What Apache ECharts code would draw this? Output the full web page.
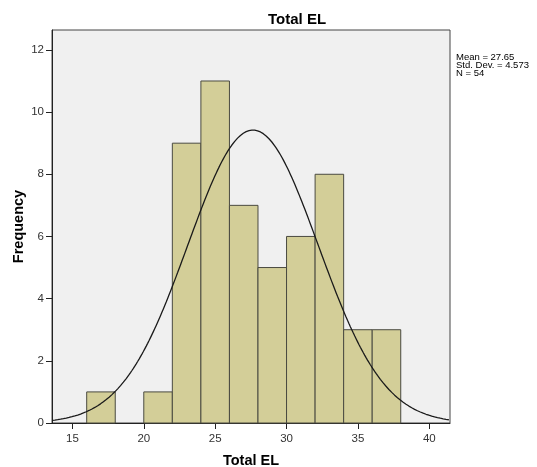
<!DOCTYPE html>
<html>
<head>
<meta charset="utf-8">
<style>
  html, body { margin: 0; padding: 0; background: #ffffff; }
  #chart { width: 537px; height: 467px; }
</style>
<script src="https://cdn.jsdelivr.net/npm/echarts@6/dist/echarts.min.js"></script>
</head>
<body>
<div id="chart"></div>
<script>
// Histogram bins of Total EL (bin width 2)
const binStarts = [16, 18, 20, 22, 24, 26, 28, 30, 32, 34, 36];
const binEnds   = [18, 20, 22, 24, 26, 28, 30, 32, 34, 36, 38];
const frequencies = [1, 0, 1, 9, 11, 7, 5, 6, 8, 3, 3];

// Descriptive statistics shown beside the plot
const statMean = 27.65;
const statSd = 4.573;
const statN = 54;
const statLines = ['Mean = ' + statMean, 'Std. Dev. = ' + statSd, 'N = ' + statN];

// Axis ticks
const xTicks = [15, 20, 25, 30, 35, 40];
const yTicks = [0, 2, 4, 6, 8, 10, 12];

const xMin = 13.57, xMax = 41.45;
const yMax = 12.64;
const binWidth = 2;

const FONT = 'Arial, "Liberation Sans", sans-serif';

// Fitted normal curve, scaled to frequency units (N * bin width)
const curve = [];
for (let x = xMin; x <= xMax + 1e-9; x += 0.1) {
  const z = (x - statMean) / statSd;
  const y = statN * binWidth * Math.exp(-0.5 * z * z) / (statSd * Math.sqrt(2 * Math.PI));
  curve.push([x, y]);
}

const barData = binStarts.map((s, i) => [s, binEnds[i], frequencies[i]]);

// Stats block: one text element per line
const statGraphics = statLines.map((t, i) => ({
  type: 'text', x: 456, y: 57 + i * 8.3,
  style: { text: t, font: '9.5px ' + FONT, fill: '#000', verticalAlign: 'middle' }
}));

const chart = echarts.init(document.getElementById('chart'), null, { renderer: 'canvas' });
chart.setOption({
  animation: false,
  backgroundColor: '#ffffff',
  grid: {
    left: 52, right: 87, top: 30, bottom: 44,
    outerBoundsMode: 'none',
    show: true, backgroundColor: '#f0f0f0', borderColor: '#444', borderWidth: 1
  },
  xAxis: {
    type: 'value', min: xMin, max: xMax,
    name: 'Total EL', nameLocation: 'middle', nameGap: 30,
    nameTextStyle: { fontFamily: FONT, fontWeight: 'bold', fontSize: 14.5, color: '#000' },
    axisLine: { show: true, onZero: false, lineStyle: { color: '#222', width: 1 } },
    axisTick: { show: true, length: 6, customValues: xTicks, lineStyle: { color: '#222' } },
    axisLabel: { customValues: xTicks, margin: 10, fontFamily: FONT, fontSize: 11.5, color: '#333' },
    splitLine: { show: false }
  },
  yAxis: {
    type: 'value', min: 0, max: yMax,
    name: 'Frequency', nameLocation: 'middle', nameGap: 26, nameMoveOverlap: false,
    nameTextStyle: { fontFamily: FONT, fontWeight: 'bold', fontSize: 14.5, color: '#000' },
    axisLine: { show: true, onZero: false, lineStyle: { color: '#222', width: 1 } },
    axisTick: { show: true, length: 6, customValues: yTicks, lineStyle: { color: '#222' } },
    axisLabel: { customValues: yTicks, margin: 8, fontFamily: FONT, fontSize: 11.5, color: '#333' },
    splitLine: { show: false }
  },
  graphic: [
    {
      type: 'text', left: 268, top: 12,
      style: { text: 'Total EL', font: 'bold 15px ' + FONT, fill: '#000' }
    }
  ].concat(statGraphics),
  series: [
    {
      type: 'custom',
      data: barData,
      encode: { x: [0, 1], y: 2 },
      renderItem: function (params, api) {
        const p0 = api.coord([api.value(0), api.value(2)]);
        const p1 = api.coord([api.value(1), 0]);
        if (api.value(2) <= 0) return null;
        return {
          type: 'rect',
          shape: { x: p0[0], y: p0[1], width: p1[0] - p0[0], height: p1[1] - p0[1] },
          style: { fill: '#d3ce98', stroke: '#4a4a40', lineWidth: 1 }
        };
      },
      z: 2
    },
    {
      type: 'line',
      data: curve,
      showSymbol: false,
      smooth: false,
      lineStyle: { color: '#1a1a1a', width: 1.3 },
      z: 3
    }
  ]
});
</script>
</body>
</html>
